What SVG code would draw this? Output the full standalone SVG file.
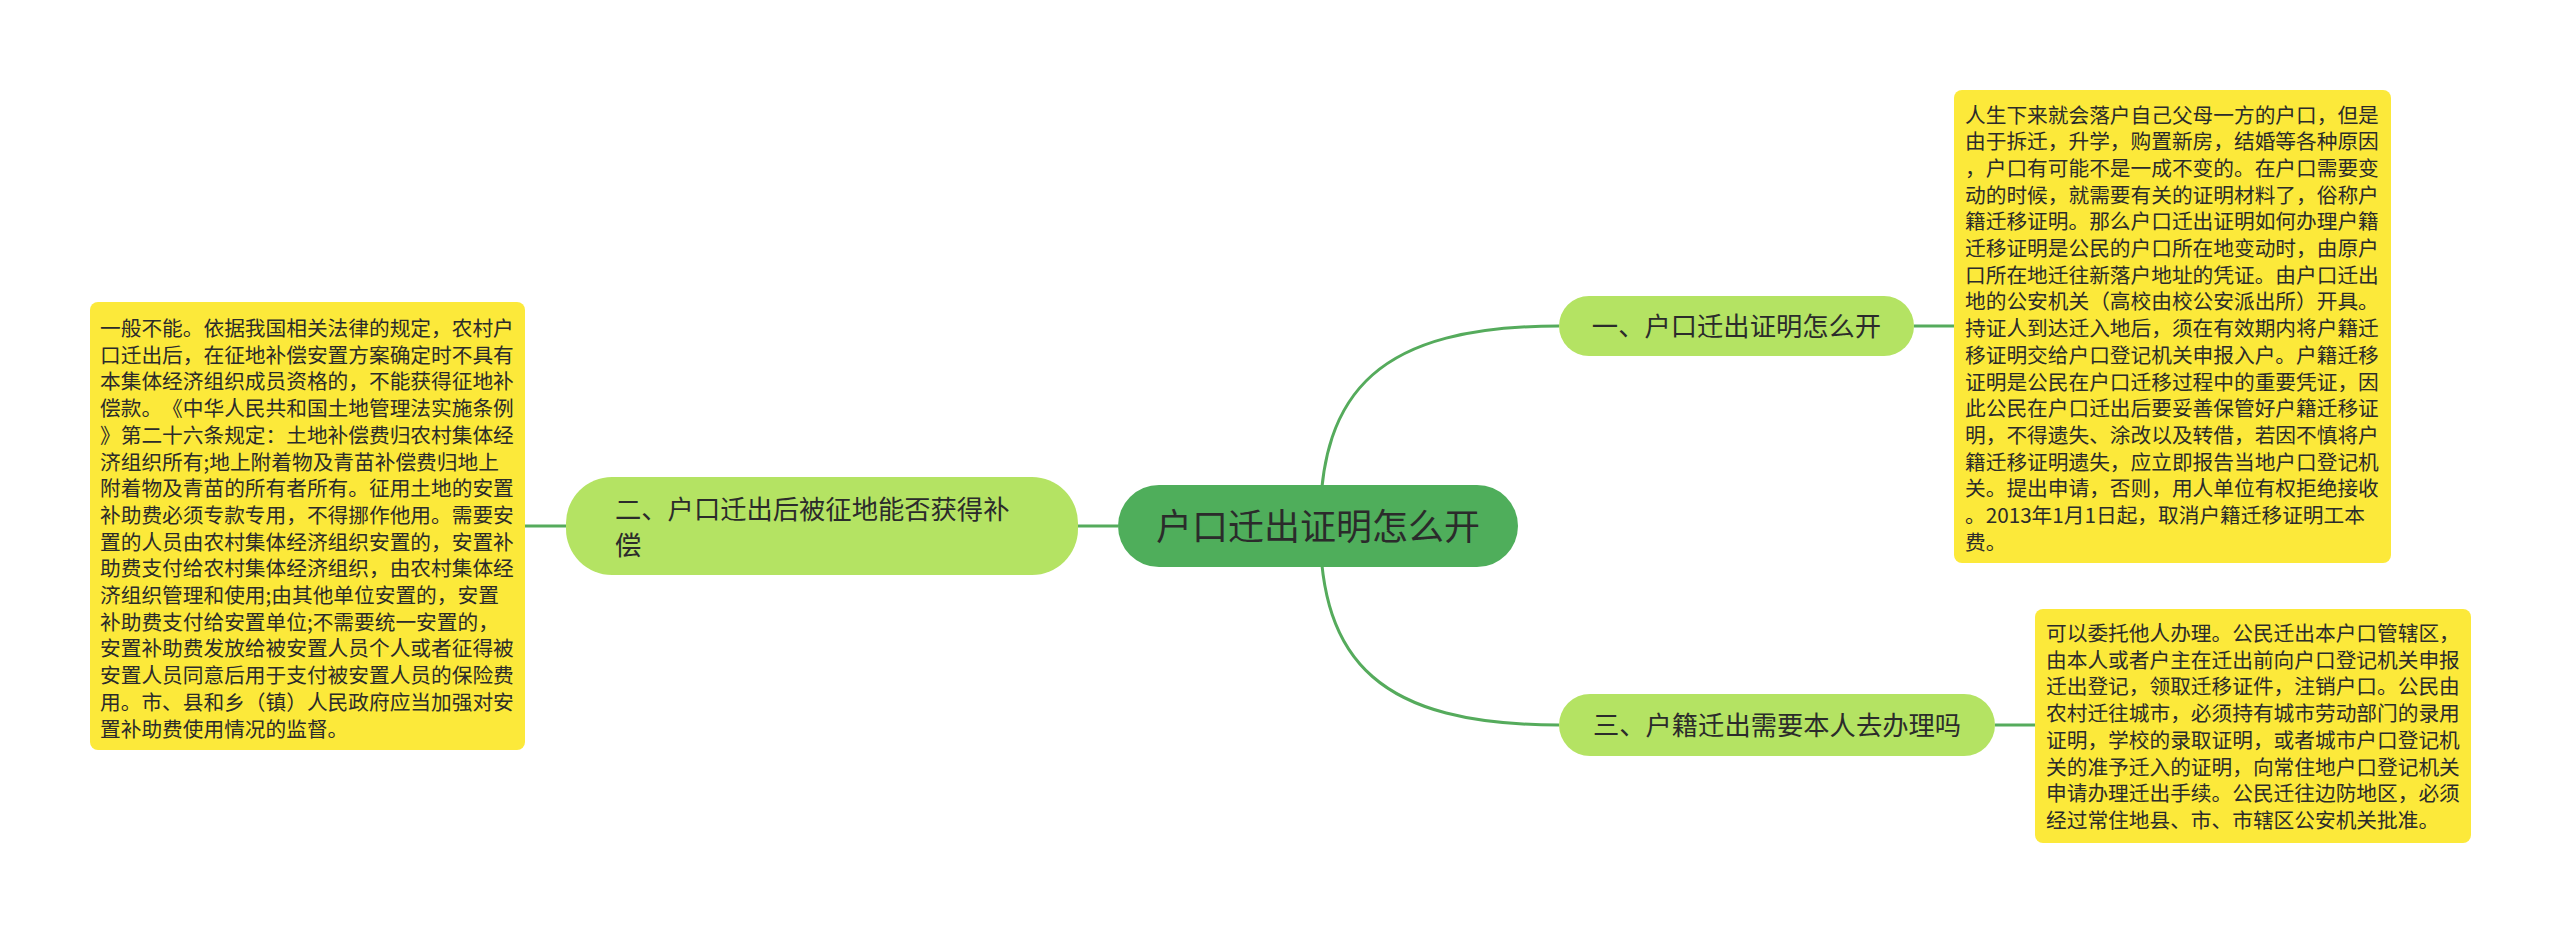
<svg xmlns="http://www.w3.org/2000/svg" width="2560" height="933" viewBox="0 0 2560 933">
<style>
.conn{fill:none;stroke:#55ab5c;stroke-width:3}
.t{font-family:"Noto Sans CJK SC","Noto Sans",sans-serif;fill:#2b2b2b;font-feature-settings:"chws" 0,"halt" 0;text-spacing-trim:space-all;font-kerning:none}
.note{fill:#fce93a}
.sub{fill:#b4e363}
.nt{font-size:20.7px}
.st{font-size:26.3px}
</style>
<rect width="2560" height="933" fill="#ffffff"/>
<g id="connectors">
<path class="conn" d="M1320,526 C1320,390 1380,326 1559,326"/>
<path class="conn" d="M1320,526 C1320,662 1380,725 1559,725"/>
<path class="conn" d="M1118,526 L1078,526"/>
<path class="conn" d="M566,526 L525,526"/>
<path class="conn" d="M1914,326 L1954,326"/>
<path class="conn" d="M1995,725 L2035,725"/>
</g>
<g id="center">
<rect x="1118" y="485" width="400" height="82" rx="41" fill="#4fae5b"/>
<text class="t" x="1318" y="540" font-size="36" text-anchor="middle">户口迁出证明怎么开</text>
</g>
<g id="node1">
<rect class="sub" x="1559" y="296" width="355" height="60" rx="30"/>
<text class="t st" x="1736.5" y="336" text-anchor="middle">一、户口迁出证明怎么开</text>
</g>
<g id="node2">
<rect class="sub" x="566" y="477" width="512" height="98" rx="46"/>
<text class="t st" x="615" y="519">二、户口迁出后被征地能否获得补</text>
<text class="t st" x="615" y="555">偿</text>
</g>
<g id="node3">
<rect class="sub" x="1559" y="694" width="436" height="62" rx="31"/>
<text class="t st" x="1777" y="735" text-anchor="middle">三、户籍迁出需要本人去办理吗</text>
</g>
<g id="note1">
<rect class="note" x="1954" y="90" width="437" height="473" rx="8"/>
<text class="t nt" x="1965" y="122.5">
<tspan x="1965">人生下来就会落户自己父母一方的户口，但是</tspan>
<tspan x="1965" dy="26.7">由于拆迁，升学，购置新房，结婚等各种原因</tspan>
<tspan x="1965" dy="26.7">，户口有可能不是一成不变的。在户口需要变</tspan>
<tspan x="1965" dy="26.7">动的时候，就需要有关的证明材料了，俗称户</tspan>
<tspan x="1965" dy="26.7">籍迁移证明。那么户口迁出证明如何办理户籍</tspan>
<tspan x="1965" dy="26.7">迁移证明是公民的户口所在地变动时，由原户</tspan>
<tspan x="1965" dy="26.7">口所在地迁往新落户地址的凭证。由户口迁出</tspan>
<tspan x="1965" dy="26.7">地的公安机关（高校由校公安派出所）开具。</tspan>
<tspan x="1965" dy="26.7">持证人到达迁入地后，须在有效期内将户籍迁</tspan>
<tspan x="1965" dy="26.7">移证明交给户口登记机关申报入户。户籍迁移</tspan>
<tspan x="1965" dy="26.7">证明是公民在户口迁移过程中的重要凭证，因</tspan>
<tspan x="1965" dy="26.7">此公民在户口迁出后要妥善保管好户籍迁移证</tspan>
<tspan x="1965" dy="26.7">明，不得遗失、涂改以及转借，若因不慎将户</tspan>
<tspan x="1965" dy="26.7">籍迁移证明遗失，应立即报告当地户口登记机</tspan>
<tspan x="1965" dy="26.7">关。提出申请，否则，用人单位有权拒绝接收</tspan>
<tspan x="1965" dy="26.7">。2013年1月1日起，取消户籍迁移证明工本</tspan>
<tspan x="1965" dy="26.7">费。</tspan>
</text>
</g>
<g id="note2">
<rect class="note" x="90" y="302" width="435" height="448" rx="8"/>
<text class="t nt" x="100" y="336">
<tspan x="100">一般不能。依据我国相关法律的规定，农村户</tspan>
<tspan x="100" dy="26.7">口迁出后，在征地补偿安置方案确定时不具有</tspan>
<tspan x="100" dy="26.7">本集体经济组织成员资格的，不能获得征地补</tspan>
<tspan x="100" dy="26.7">偿款。《中华人民共和国土地管理法实施条例</tspan>
<tspan x="100" dy="26.7">》第二十六条规定：土地补偿费归农村集体经</tspan>
<tspan x="100" dy="26.7">济组织所有;地上附着物及青苗补偿费归地上</tspan>
<tspan x="100" dy="26.7">附着物及青苗的所有者所有。征用土地的安置</tspan>
<tspan x="100" dy="26.7">补助费必须专款专用，不得挪作他用。需要安</tspan>
<tspan x="100" dy="26.7">置的人员由农村集体经济组织安置的，安置补</tspan>
<tspan x="100" dy="26.7">助费支付给农村集体经济组织，由农村集体经</tspan>
<tspan x="100" dy="26.7">济组织管理和使用;由其他单位安置的，安置</tspan>
<tspan x="100" dy="26.7">补助费支付给安置单位;不需要统一安置的，</tspan>
<tspan x="100" dy="26.7">安置补助费发放给被安置人员个人或者征得被</tspan>
<tspan x="100" dy="26.7">安置人员同意后用于支付被安置人员的保险费</tspan>
<tspan x="100" dy="26.7">用。市、县和乡（镇）人民政府应当加强对安</tspan>
<tspan x="100" dy="26.7">置补助费使用情况的监督。</tspan>
</text>
</g>
<g id="note3">
<rect class="note" x="2035" y="609" width="436" height="234" rx="8"/>
<text class="t nt" x="2046" y="641">
<tspan x="2046">可以委托他人办理。公民迁出本户口管辖区，</tspan>
<tspan x="2046" dy="26.7">由本人或者户主在迁出前向户口登记机关申报</tspan>
<tspan x="2046" dy="26.7">迁出登记，领取迁移证件，注销户口。公民由</tspan>
<tspan x="2046" dy="26.7">农村迁往城市，必须持有城市劳动部门的录用</tspan>
<tspan x="2046" dy="26.7">证明，学校的录取证明，或者城市户口登记机</tspan>
<tspan x="2046" dy="26.7">关的准予迁入的证明，向常住地户口登记机关</tspan>
<tspan x="2046" dy="26.7">申请办理迁出手续。公民迁往边防地区，必须</tspan>
<tspan x="2046" dy="26.7">经过常住地县、市、市辖区公安机关批准。</tspan>
</text>
</g>
</svg>
